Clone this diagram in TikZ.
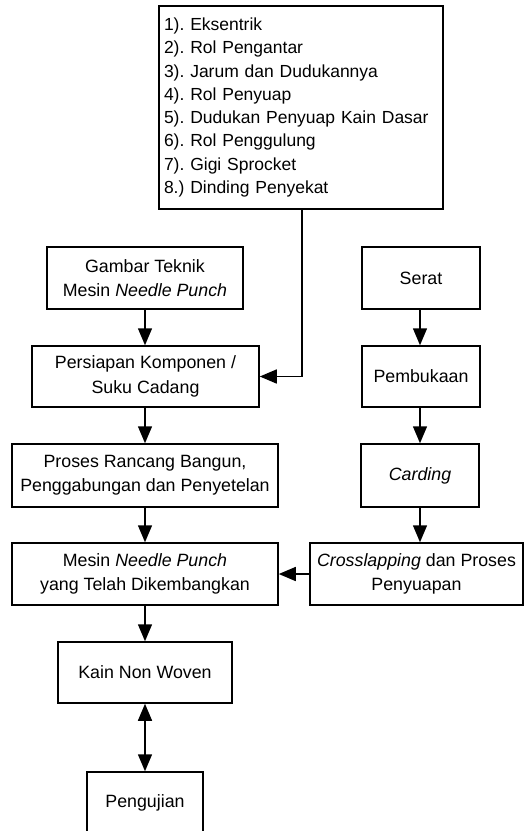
\documentclass[tikz,border=0pt]{standalone}
\usepackage{fontspec}
\setmainfont{Liberation Sans}
\usetikzlibrary{arrows.meta}

\begin{document}
\frenchspacing
\begin{tikzpicture}[x=1pt, y=-1pt, line width=1.5pt,
  font=\fontsize{17.8}{24.4}\selectfont,
  kotak/.style={draw, align=center, inner sep=2pt},
  panah/.style={-{Triangle[length=17pt, width=14pt]}}]
  \useasboundingbox (0,0) rectangle (524,831);
  % daftar komponen
  \node[kotak, minimum width=284pt, minimum height=203pt, align=left, text width=274pt, inner sep=5pt,
    font=\fontsize{17.5}{23.3}\selectfont] (daftar) at (301,107.5)
    {1). Eksentrik\\2). Rol Pengantar\\3). Jarum dan Dudukannya\\4). Rol Penyuap\\5). Dudukan Penyuap Kain Dasar\\6). Rol Penggulung\\7). Gigi Sprocket\\8.) Dinding Penyekat};
  % kolom kiri
  \node[kotak, minimum width=196pt, minimum height=62pt] (gambar) at (145,278) {Gambar Teknik\\Mesin \textit{Needle Punch}};
  \node[kotak, minimum width=227pt, minimum height=61pt] (persiapan) at (145.5,376.5) {Persiapan Komponen /\\Suku Cadang};
  \node[kotak, minimum width=266pt, minimum height=63pt] (rancang) at (145,475.5) {Proses Rancang Bangun,\\Penggabungan dan Penyetelan};
  \node[kotak, minimum width=266pt, minimum height=62pt] (mesin) at (145,574) {Mesin \textit{Needle Punch}\\yang Telah Dikembangkan};
  \node[kotak, minimum width=174pt, minimum height=61pt] (kain) at (145,672.5) {Kain Non Woven};
  \node[kotak, minimum width=116pt, minimum height=62pt] (uji) at (145,803) {Pengujian};
  % kolom kanan
  \node[kotak, minimum width=118pt, minimum height=62pt] (serat) at (421,278) {Serat};
  \node[kotak, minimum width=118pt, minimum height=61pt] (buka) at (421,376.5) {Pembukaan};
  \node[kotak, minimum width=118pt, minimum height=63pt] (carding) at (420,475.5) {\textit{Carding}};
  \node[kotak, minimum width=213pt, minimum height=62pt] (cross) at (416.5,574) {\textit{Crosslapping} dan Proses\\Penyuapan};
  \coordinate (belok) at (302,376.5);

  \draw[panah] (daftar.south -| belok) -- (belok) -- (persiapan.east);
  \draw[panah] (gambar) -- (gambar |- persiapan.north);
  \draw[panah] (persiapan.south -| rancang) -- (rancang);
  \draw[panah] (rancang) -- (mesin);
  \draw[panah] (mesin) -- (kain);
  \draw[{Triangle[length=17pt, width=14pt]}-{Triangle[length=17pt, width=14pt]}] (kain) -- (uji);
  \draw[panah] (serat.south -| 420,0) -- (buka.north -| 420,0);
  \draw[panah] (buka.south -| carding) -- (carding);
  \draw[panah] (carding.south) -- (carding.south |- cross.north);
  \draw[panah] (cross) -- (mesin);
\end{tikzpicture}
\end{document}
